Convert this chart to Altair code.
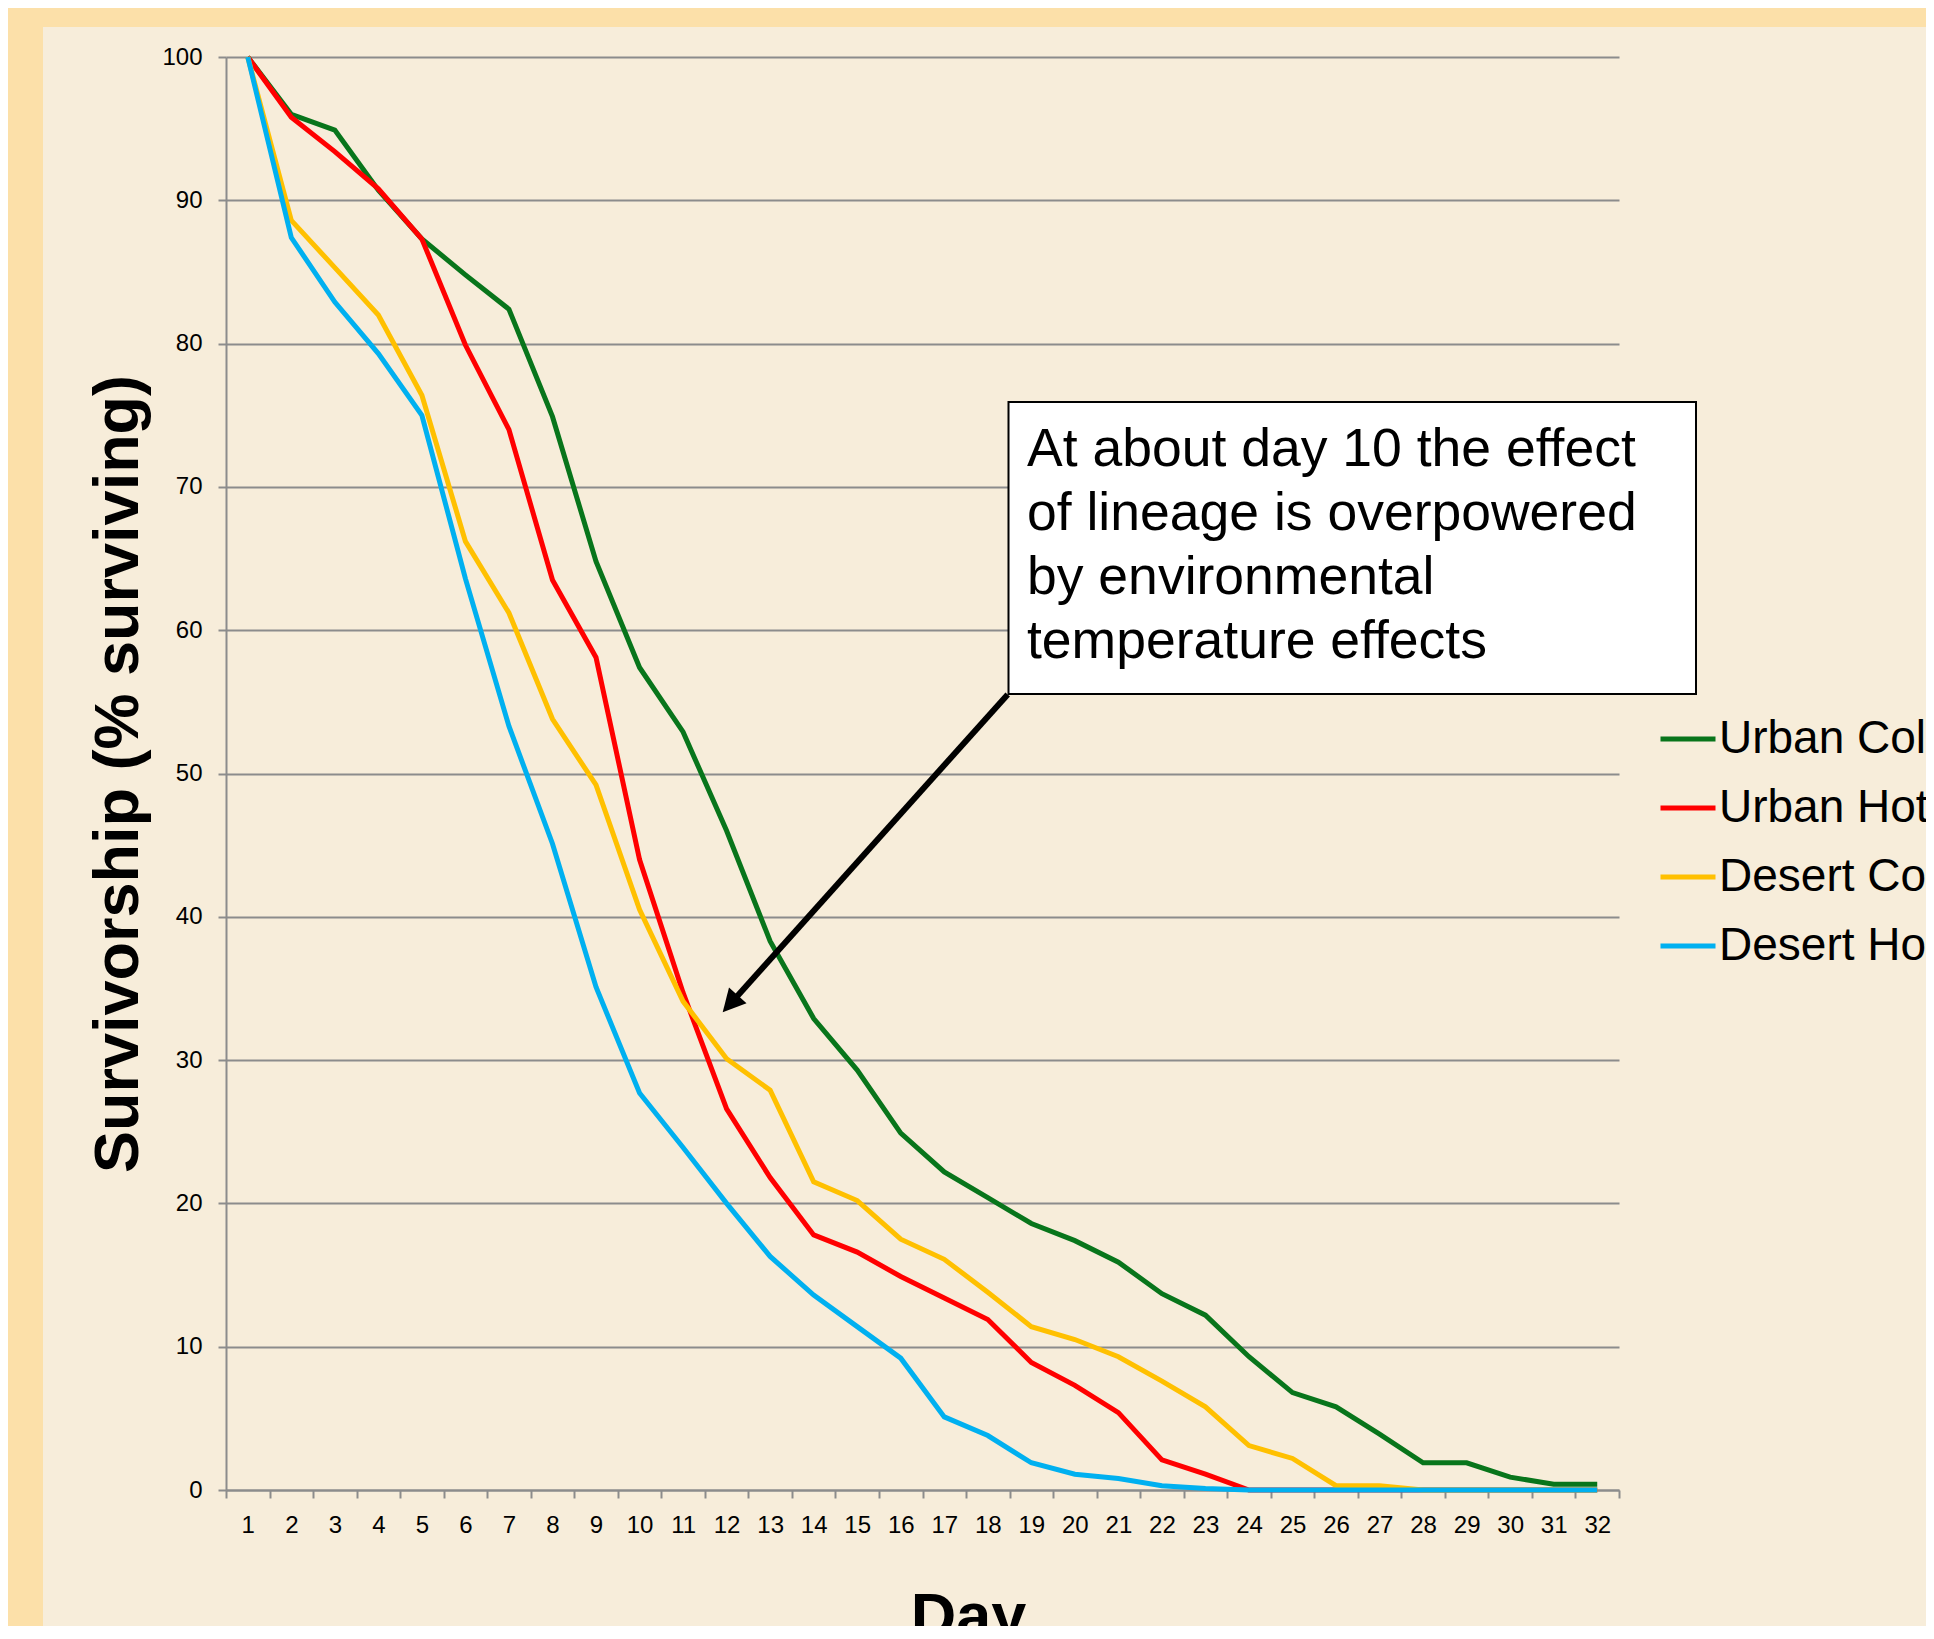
import altair as alt
import pandas as pd

days = list(range(1, 33))
series_names = ["Urban Cold", "Urban Hot", "Desert Cold", "Desert Hot"]
series_colors = ["#08751B", "#FF0000", "#FFC000", "#00B0F0"]

urban_cold = [100, 96.0, 94.9, 90.7, 87.3, 84.8, 82.4, 74.9, 64.8, 57.4, 52.9, 46.0, 38.3, 32.9, 29.3, 24.9,
              22.2, 20.4, 18.6, 17.4, 15.9, 13.7, 12.2, 9.3, 6.8, 5.8, 3.9, 1.9, 1.9, 0.9, 0.4, 0.4]
urban_hot = [100, 95.8, 93.4, 90.8, 87.3, 79.9, 74.0, 63.5, 58.1, 44.0, 34.7, 26.6, 21.8, 17.8, 16.6, 14.9,
             13.4, 11.9, 8.9, 7.3, 5.4, 2.1, 1.1, 0, 0, 0, 0, 0, 0, 0, 0, 0]
desert_cold = [100, 88.6, 85.3, 82.0, 76.4, 66.2, 61.2, 53.8, 49.2, 40.5, 34.1, 30.1, 27.9, 21.5, 20.2, 17.5,
               16.1, 13.8, 11.4, 10.5, 9.3, 7.6, 5.8, 3.1, 2.2, 0.3, 0.3, 0, 0, 0, 0, 0]
desert_hot = [100, 87.4, 82.9, 79.3, 75.0, 63.6, 53.3, 45.1, 35.1, 27.7, 23.9, 20.0, 16.3, 13.6, 11.4, 9.2,
              5.1, 3.8, 1.9, 1.1, 0.8, 0.3, 0.1, 0, 0, 0, 0, 0, 0, 0, 0, 0]

y_ticks = list(range(0, 101, 10))
annotation_lines = ["At about day 10 the effect", "of lineage is overpowered",
                    "by environmental", "temperature effects"]

rows = []
for name, vals in zip(series_names, [urban_cold, urban_hot, desert_cold, desert_hot]):
    for d, v in zip(days, vals):
        rows.append({"Day": d, "Survivorship": v, "Series": name})
df = pd.DataFrame(rows)

FONT = "Liberation Sans"
W, H = 1393, 1433
GRID = "#8C8C8C"

lines = alt.Chart(df).mark_line(strokeWidth=5, strokeJoin="miter").encode(
    x=alt.X("Day:O", bandPosition=0.5,
            scale=alt.Scale(type="band", paddingInner=0, paddingOuter=0),
            axis=alt.Axis(title="Day", labelAngle=0, tickBand="extent", grid=False,
                          domainColor=GRID, domainWidth=2, tickColor=GRID, tickWidth=2, tickSize=8,
                          labelFont=FONT, labelFontSize=24, labelColor="#000000", labelPadding=15,
                          titleFont=FONT, titleFontSize=63, titleFontWeight="bold", titleColor="#000000",
                          titleX=742, titleY=146, titleBaseline="alphabetic", titleAnchor="start",
                          titleAlign="center")),
    y=alt.Y("Survivorship:Q",
            scale=alt.Scale(domain=[0, 100], nice=False),
            axis=alt.Axis(title="Survivorship (% surviving)", values=y_ticks,
                          grid=True, gridColor=GRID, gridWidth=2,
                          domainColor=GRID, domainWidth=2, tickColor=GRID, tickWidth=2, tickSize=8,
                          labelFont=FONT, labelFontSize=24, labelColor="#000000", labelPadding=16,
                          titleFont=FONT, titleFontSize=63, titleFontWeight="bold", titleColor="#000000",
                          titleAngle=270, titleX=-89, titleY=H / 2, titleBaseline="alphabetic",
                          titleAlign="center")),
    color=alt.Color("Series:N",
                    scale=alt.Scale(domain=series_names, range=series_colors),
                    sort=series_names,
                    legend=alt.Legend(title=None, orient="none", legendX=1432, legendY=652,
                                      symbolType="stroke", symbolSize=3025, symbolStrokeWidth=5,
                                      labelFont=FONT, labelFontSize=46, labelColor="#000000",
                                      labelOffset=1, rowPadding=16, padding=0, labelLimit=1000)),
    order=alt.Order("order:Q"),
).transform_calculate(
    order="indexof(['Urban Cold','Urban Hot','Desert Cold','Desert Hot'], datum.Series)"
)

# decorative orange border strips (outside plot area)
left_strip = alt.Chart(pd.DataFrame({"k": [0]})).mark_rect(color="#FCE0A9").encode(
    x=alt.value(-230), x2=alt.value(-183), y=alt.value(-70), y2=alt.value(2000))
top_strip = alt.Chart(pd.DataFrame({"k": [0]})).mark_rect(color="#FCE0A9").encode(
    x=alt.value(-230), x2=alt.value(2000), y=alt.value(-70), y2=alt.value(-30))

box = alt.Chart(pd.DataFrame({"k": [0]})).mark_rect(fill="#FFFFFF", stroke="#000000", strokeWidth=2).encode(
    x=alt.value(782.5), x2=alt.value(1470), y=alt.value(345), y2=alt.value(637))

text = alt.Chart(pd.DataFrame({"k": [0]})).mark_text(
    text=annotation_lines, font=FONT, fontSize=53.5, lineHeight=64, align="left",
    baseline="alphabetic", color="#000000").encode(x=alt.value(801), y=alt.value(408.5))

arrow_line = alt.Chart(pd.DataFrame({"k": [0]})).mark_rule(color="#000000", strokeWidth=6).encode(
    x=alt.value(781.7), y=alt.value(637.4), x2=alt.value(508.7), y2=alt.value(941.9))

arrow_head = alt.Chart(pd.DataFrame({"k": [0]})).mark_point(
    shape="M0,0 L0.52,1 L-0.52,1 Z", filled=True, color="#000000", opacity=1,
    size=2043, angle=221.8, strokeWidth=0).encode(x=alt.value(496.7), y=alt.value(955.3))

chart = alt.layer(left_strip, top_strip, lines, box, text, arrow_line, arrow_head).properties(
    width=W, height=H,
    autosize=alt.AutoSizeParams(type="none"),
    padding={"left": 218, "top": 49, "right": 307, "bottom": 136},
    background="#F7EDDA",
).configure_view(strokeWidth=0)

chart.save("out.html", embed_options={"renderer": "svg", "actions": False})
